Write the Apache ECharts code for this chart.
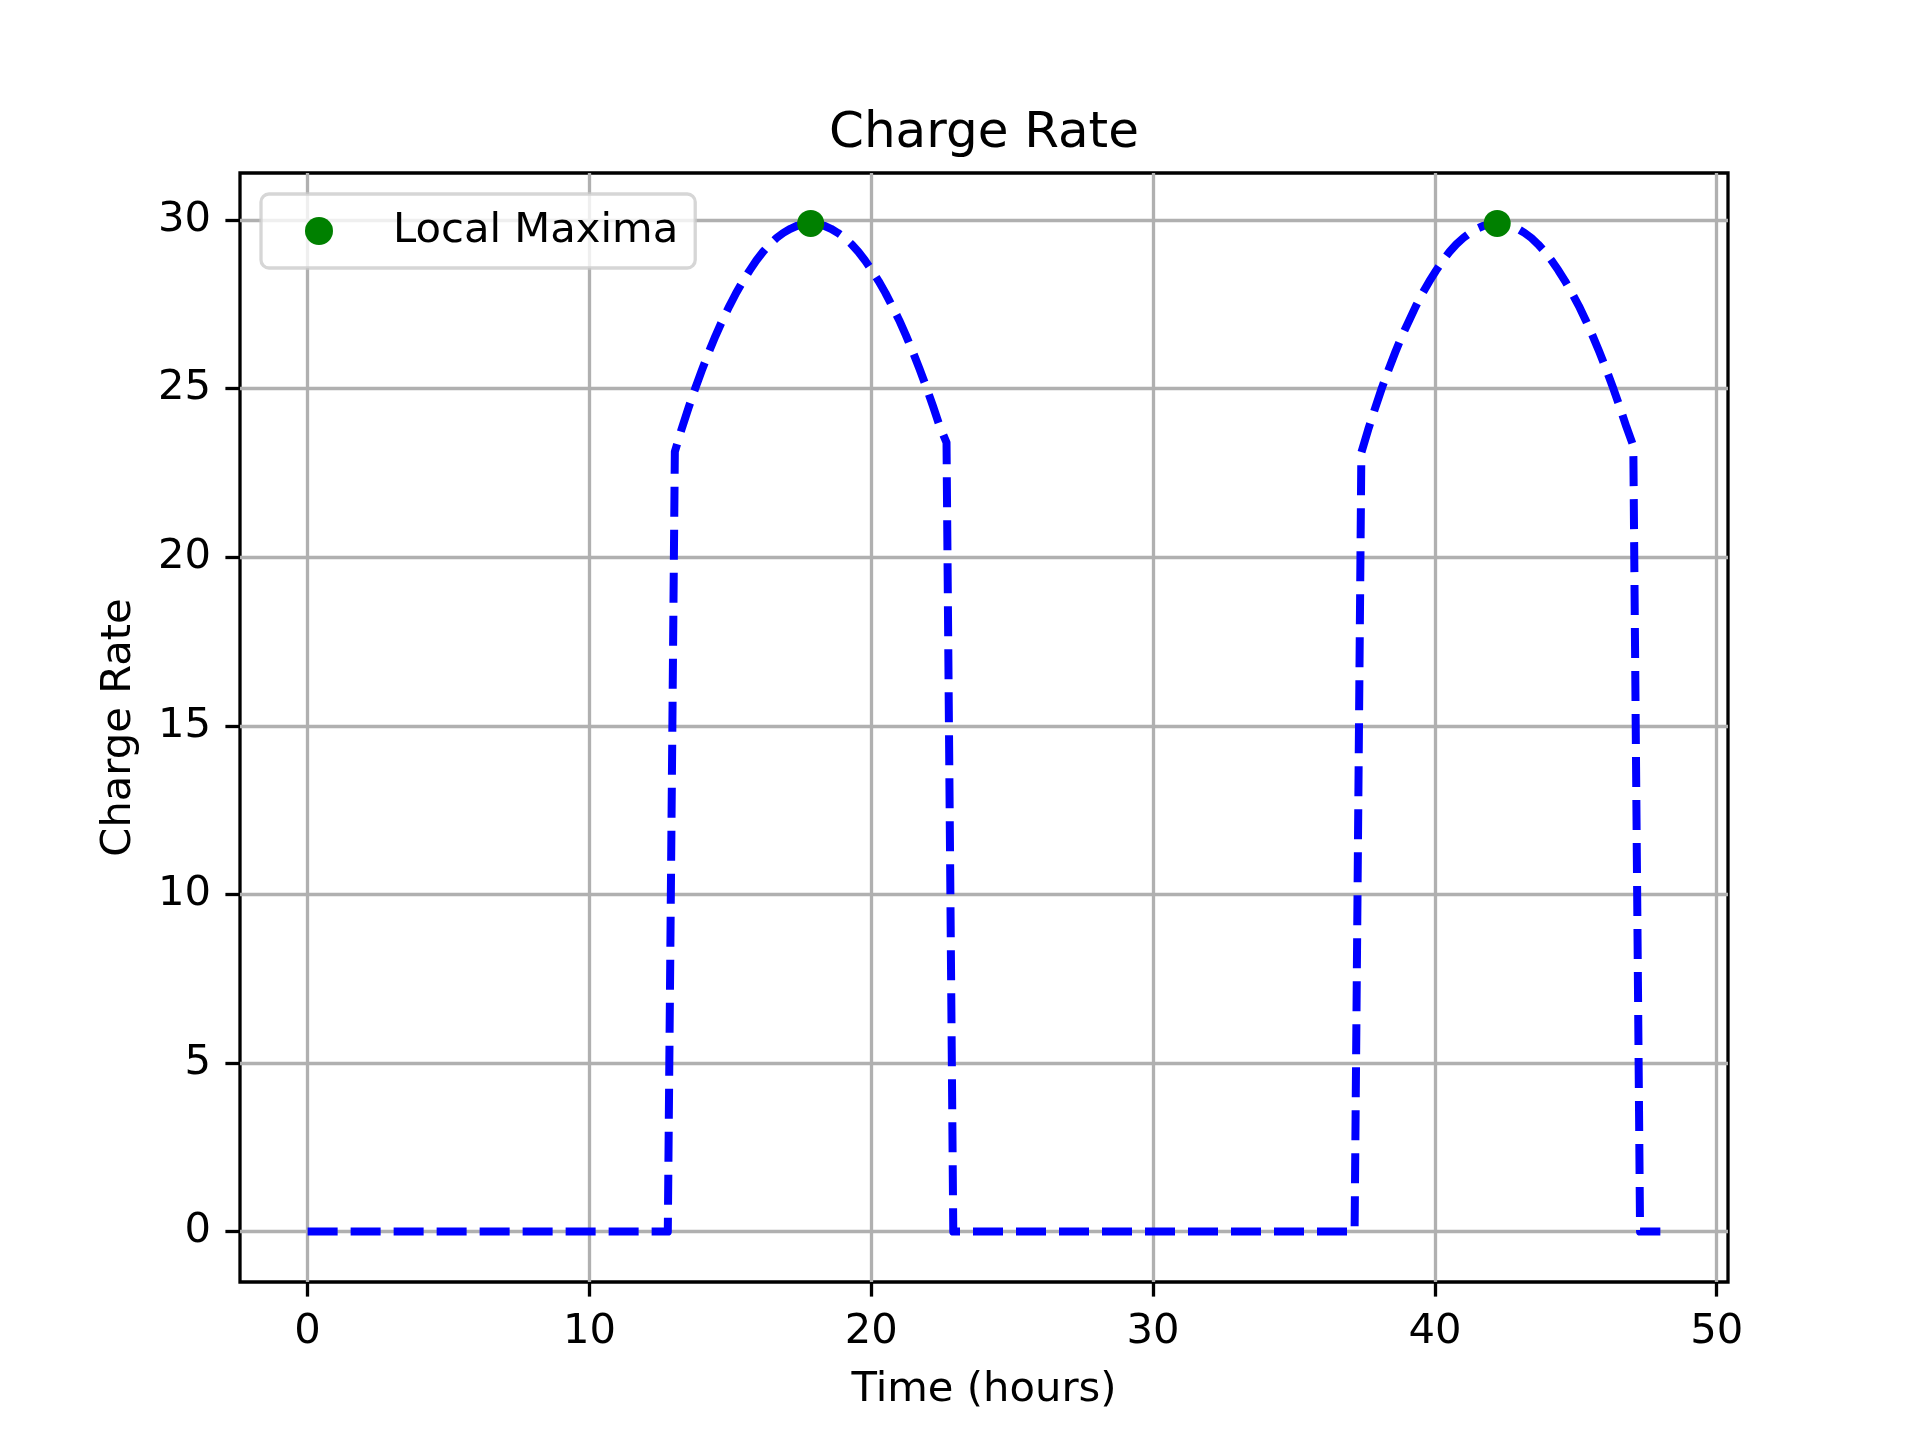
<!DOCTYPE html>
<html>
<head>
<meta charset="utf-8">
<script src="https://cdn.jsdelivr.net/npm/echarts@6/dist/echarts.min.js"></script>
<style>
  body { margin: 0; background: #fff; }
  #chart { width: 1920px; height: 1440px; }
</style>
</head>
<body>
<div id="chart"></div>
<script>
// charge rate curve (hours, value)
var hours = [
  0, 12.78,
  13.03, 13.27, 13.51, 13.75, 13.99, 14.23, 14.47, 14.71, 14.96, 15.20,
  15.44, 15.68, 15.92, 16.16, 16.40, 16.64, 16.88, 17.13, 17.37, 17.61,
  17.85, 18.09, 18.33, 18.57, 18.81, 19.06, 19.30, 19.54, 19.78, 20.02,
  20.26, 20.50, 20.74, 20.99, 21.23, 21.47, 21.71, 21.95, 22.19, 22.43,
  22.67,
  22.91, 37.15,
  37.39, 37.63, 37.87, 38.11, 38.35, 38.59, 38.83, 39.08, 39.32, 39.56,
  39.80, 40.04, 40.28, 40.52, 40.76, 41.01, 41.25, 41.49, 41.73, 41.97,
  42.21, 42.45, 42.69, 42.94, 43.18, 43.42, 43.66, 43.90, 44.14, 44.38,
  44.62, 44.86, 45.11, 45.35, 45.59, 45.83, 46.07, 46.31, 46.55, 46.79,
  47.04,
  47.28, 48
];
var rate = [
  0, 0,
  23.13, 23.80, 24.42, 25.00, 25.55, 26.07, 26.56, 27.01, 27.44, 27.83,
  28.18, 28.50, 28.80, 29.06, 29.28, 29.47, 29.62, 29.74, 29.83, 29.88,
  29.90, 29.88, 29.83, 29.74, 29.62, 29.47, 29.28, 29.06, 28.80, 28.51,
  28.19, 27.84, 27.45, 27.03, 26.58, 26.10, 25.59, 25.05, 24.48, 23.88,
  23.40,
  0, 0,
  23.10, 23.78, 24.40, 25.00, 25.55, 26.07, 26.56, 27.01, 27.44, 27.83,
  28.18, 28.50, 28.80, 29.06, 29.28, 29.47, 29.62, 29.74, 29.83, 29.88,
  29.90, 29.88, 29.83, 29.74, 29.62, 29.47, 29.28, 29.06, 28.80, 28.51,
  28.19, 27.84, 27.45, 27.03, 26.58, 26.10, 25.59, 25.05, 24.48, 23.88,
  23.30,
  0, 0
];
var maxHours = [17.85, 42.21];
var maxRate = [29.90, 29.90];
var xTicks = [0, 10, 20, 30, 40, 50];
var yTicks = [0, 5, 10, 15, 20, 25, 30];

var lineData = [];
for (var i = 0; i < hours.length; i++) {
  lineData.push([hours[i], rate[i]]);
}
var maxData = [];
for (var j = 0; j < maxHours.length; j++) {
  maxData.push([maxHours[j], maxRate[j]]);
}

var FONT = 'DejaVu Sans';
var chart = echarts.init(document.getElementById('chart'));
chart.setOption({
  animation: false,
  backgroundColor: '#fff',
  textStyle: { fontFamily: FONT, color: '#000' },
  title: {
    text: 'Charge Rate',
    left: 979,
    top: 104,
    textAlign: 'center',
    textStyle: { fontFamily: FONT, fontSize: 50, fontWeight: 'normal', color: '#000' }
  },
  legend: {
    data: ['Local Maxima'],
    left: 261,
    top: 194,
    orient: 'vertical',
    icon: 'circle',
    itemWidth: 28,
    itemHeight: 28,
    padding: [12, 17, 12, 44],
    borderColor: 'rgba(204,204,204,0.8)',
    borderWidth: 3.3,
    borderRadius: 8,
    backgroundColor: 'rgba(255,255,255,0.8)',
    formatter: '{t|{name}}',
    textStyle: {
      fontFamily: FONT, fontSize: 41.7, color: '#000', lineHeight: 50,
      rich: { t: { fontFamily: FONT, fontSize: 41.7, color: '#000', lineHeight: 50, padding: [0, 0, 0, 55] } }
    }
  },
  grid: {
    left: 240,
    right: 192,
    top: 173,
    bottom: 158,
    show: true,
    borderColor: '#000',
    borderWidth: 3.3,
    backgroundColor: 'transparent'
  },
  xAxis: {
    type: 'value',
    min: -2.4,
    max: 50.4,
    name: 'Time (hours)',
    nameLocation: 'middle',
    nameGap: 87,
    nameTextStyle: { fontFamily: FONT, fontSize: 41.7, color: '#000' },
    axisLine: { show: false, onZero: false },
    axisTick: { show: true, customValues: xTicks, length: 14.6, lineStyle: { color: '#000', width: 3.3 } },
    axisLabel: { customValues: xTicks, margin: 29, fontFamily: FONT, fontSize: 41.7, color: '#000' },
    splitLine: { show: true, lineStyle: { color: '#b0b0b0', width: 3.3 } }
  },
  yAxis: {
    type: 'value',
    min: -1.495,
    max: 31.395,
    name: 'Charge Rate',
    nameLocation: 'middle',
    nameGap: 100,
    nameTextStyle: { fontFamily: FONT, fontSize: 41.7, color: '#000' },
    axisLine: { show: false, onZero: false },
    axisTick: { show: true, customValues: yTicks, length: 14.6, lineStyle: { color: '#000', width: 3.3 } },
    axisLabel: { customValues: yTicks, margin: 29, fontFamily: FONT, fontSize: 41.7, color: '#000' },
    splitLine: { show: true, lineStyle: { color: '#b0b0b0', width: 3.3 } }
  },
  series: [
    {
      name: 'Charge Rate',
      type: 'line',
      data: lineData,
      showSymbol: false,
      symbol: 'none',
      lineStyle: { color: '#0000ff', width: 8, type: [30, 13], cap: 'butt', join: 'round' },
      z: 3
    },
    {
      name: 'Local Maxima',
      type: 'scatter',
      data: maxData,
      symbol: 'circle',
      symbolSize: 27,
      itemStyle: { color: '#008000', opacity: 1 },
      z: 4
    }
  ]
});
</script>
</body>
</html>
